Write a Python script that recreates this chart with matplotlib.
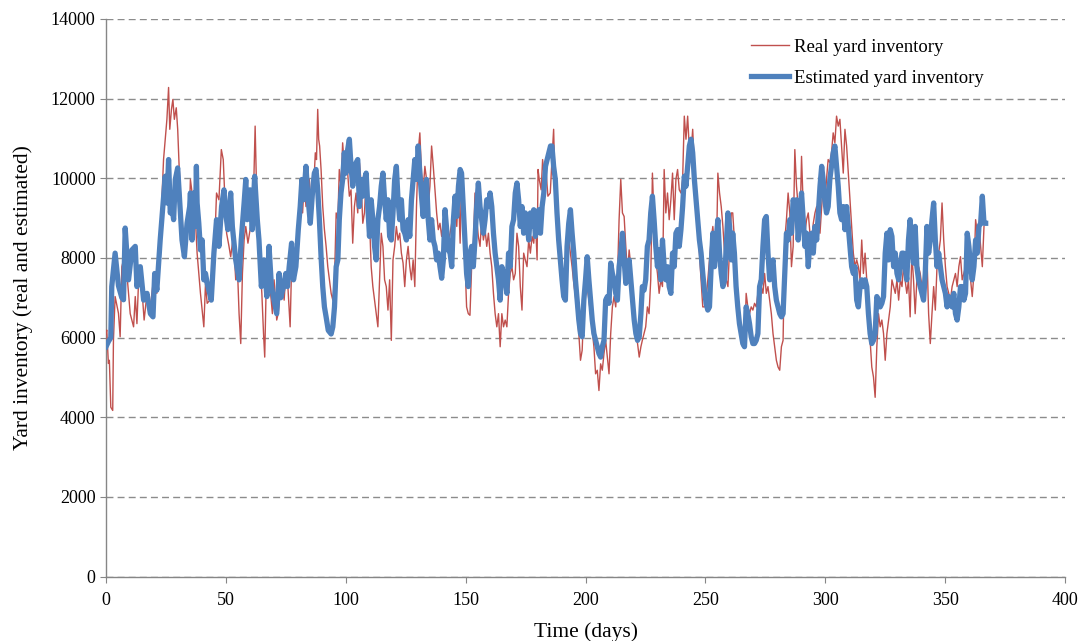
import numpy as np
import matplotlib
matplotlib.use('Agg')
import matplotlib.pyplot as plt

plt.rcParams['font.family'] = ['Liberation Serif', 'DejaVu Serif']

# ---- days 0-110, sampled irregularly ----
real_days_a = [0.0, 0.3, 1.0, 1.4, 2.0, 2.8, 3.1, 3.8, 5.2, 5.9, 6.6, 8.0, 9.4, 10.1, 11.5, 12.2, 12.9, 13.6, 14.9, 15.9,
               17.1, 18.5, 19.8, 21.2, 22.6, 23.3, 24.0, 24.7, 25.4, 26.1, 26.6, 27.3, 27.9, 28.5, 29.3, 29.9, 30.5, 31.3, 32.4, 33.8,
               34.9, 35.2, 36.6, 37.3, 38.0, 39.4, 40.1, 40.8, 41.5, 42.2, 43.3, 44.3, 45.0, 45.7, 46.1, 47.1, 48.1, 48.9, 49.6, 50.3,
               51.3, 52.0, 53.1, 54.1, 54.8, 55.5, 56.2, 56.9, 57.6, 58.3, 59.2, 60.1, 61.0, 61.7, 62.2, 62.7, 63.4, 64.3, 65.0, 65.7,
               66.2, 66.8, 67.6, 68.4, 69.4, 70.1, 71.2, 71.8, 72.6, 73.6, 74.3, 75.0, 75.7, 76.8, 77.4, 78.2, 79.2, 79.9, 80.6, 81.3,
               82.0, 82.7, 83.4, 84.1, 84.8, 85.5, 86.2, 86.9, 87.3, 87.8, 88.3, 88.7, 89.1, 89.7, 90.4, 91.1, 91.8, 92.5, 93.2, 93.9,
               94.6, 95.3, 96.0, 96.7, 97.3, 98.0, 98.7, 99.4, 100.1, 100.8, 101.5, 102.2, 102.9, 103.6, 104.3, 105.0, 105.7, 106.4, 107.1, 107.8,
               108.5, 109.2, 109.9]
real_a = [6100, 6190, 5350, 5430, 4250, 4170, 5930, 7030, 6610, 6020, 7780, 8120, 7110, 6600, 6270, 7030, 6350, 7450, 7280, 6440,
          7110, 6770, 7450, 7110, 7950, 9460, 10470, 10980, 11480, 12280, 11230, 11730, 11980, 11480, 11770, 11230, 10300, 9290, 8370, 8870,
          9380, 9970, 9290, 8960, 8120, 7110, 6690, 6270, 7360, 6860, 6940, 7450, 8290, 8960, 9630, 9460, 10720, 10470, 9460, 8620,
          8290, 8030, 8540, 7450, 7780, 6600, 5850, 7610, 8450, 8790, 8370, 8710, 8960, 10050, 11310, 9970, 8960, 7780, 7110, 6100,
          5510, 7280, 7780, 7280, 6600, 7450, 6440, 6600, 7110, 7280, 6940, 7610, 7450, 6270, 7780, 8120, 7610, 8620, 9130, 9630,
          9130, 9970, 9290, 9460, 9970, 9290, 9710, 10130, 10640, 10470, 11730, 10980, 10810, 10220, 9290, 8710, 8290, 7780, 7450, 7110,
          6940, 7450, 9130, 8960, 10220, 9800, 10890, 10300, 10640, 10130, 9550, 9710, 8370, 9290, 9630, 9130, 10390, 9880, 8870, 9130,
          9970, 9800, 8960]

est_days_a = [0.0, 1.0, 2.0, 2.4, 3.8, 5.2, 6.6, 7.3, 8.0, 9.4, 10.8, 12.2, 12.9, 14.3, 15.7, 17.1, 18.5, 19.6, 20.3, 21.2,
              22.6, 23.8, 24.7, 25.4, 26.1, 26.8, 27.5, 28.2, 28.9, 29.9, 31.0, 31.7, 32.7, 33.8, 34.9, 35.2, 35.9, 36.6, 37.3, 37.7,
              38.0, 38.7, 39.4, 40.1, 40.8, 41.5, 42.2, 42.9, 43.9, 45.0, 46.1, 47.1, 48.2, 49.2, 49.9, 50.8, 52.0, 52.7, 54.1, 55.5,
              56.4, 57.6, 58.3, 58.9, 60.1, 61.0, 62.0, 63.1, 63.8, 64.8, 65.9, 67.1, 68.0, 69.0, 70.1, 71.2, 72.2, 72.9, 74.0, 75.0,
              75.7, 76.4, 77.4, 78.2, 79.2, 80.2, 81.0, 81.7, 82.4, 83.4, 84.1, 85.2, 86.2, 86.9, 87.6, 88.3, 89.0, 89.7, 90.4, 91.1,
              91.8, 92.7, 93.9, 94.6, 95.3, 96.0, 96.7, 97.3, 98.0, 98.7, 99.4, 100.1, 100.8, 101.5, 102.2, 102.9, 103.6, 104.3, 105.0, 105.7,
              106.4, 107.1, 107.8, 108.5, 109.2, 109.9]
est_a = [5770, 5900, 6000, 7280, 8120, 7300, 7000, 6950, 8750, 7450, 8200, 8290, 7280, 7780, 6940, 7110, 6600, 6520, 7610, 7190,
         8450, 9380, 10050, 9380, 10470, 9130, 9290, 8960, 9970, 10260, 9130, 8450, 8030, 8870, 9290, 9630, 8450, 9630, 8790, 10300,
         9380, 8870, 8200, 8450, 7450, 7610, 7360, 7190, 6940, 8120, 8960, 8290, 9290, 9710, 9130, 8710, 9630, 8790, 7950, 7450,
         8450, 9380, 9970, 8960, 9710, 8710, 10050, 8960, 8450, 7280, 7950, 7030, 8290, 7280, 6940, 6600, 7610, 7000, 7280, 7610,
         7280, 7780, 8370, 7450, 7780, 8710, 9290, 9970, 9460, 10300, 9630, 8870, 9710, 10130, 10220, 9710, 8960, 8030, 7280, 6770,
         6520, 6180, 6090, 6270, 6770, 7780, 7950, 8960, 9630, 9970, 10640, 10130, 10720, 10980, 10300, 9800, 10130, 10390, 10470, 9290,
         9970, 9550, 9970, 10130, 9290, 8540]

# ---- days 110-148 ----
days_b = [110.6, 111.3, 112.0, 112.7, 113.4, 114.1, 114.8, 115.5, 116.2, 116.9, 117.6, 118.3, 119.0, 119.7, 120.4, 121.1, 121.8, 122.5,
          123.2, 123.9, 124.6, 125.3, 126.0, 126.7, 127.4, 128.1, 128.8, 129.5, 130.2, 130.9, 131.6, 132.3, 133.0, 133.7, 134.4, 135.1,
          135.8, 136.5, 137.2, 137.9, 138.6, 139.3, 140.0, 140.7, 141.4, 142.1, 142.8, 143.5, 144.2, 144.9, 145.6, 146.3, 147.0, 147.7]
real_b = [7780, 7280, 6940, 6600, 6270, 7450, 8620, 8290, 7450, 7280, 6690, 7450, 5930, 7950, 8290, 8790, 8450, 8620,
          8120, 7870, 7280, 7950, 8290, 7780, 7450, 7950, 7280, 9290, 10640, 11140, 10130, 9710, 10300, 9970, 9290, 9800,
          10810, 10300, 9710, 9130, 8710, 8870, 8540, 8870, 9210, 8960, 8450, 8620, 8870, 9130, 9290, 8790, 9710, 8370]
est_b = [9460, 8960, 8290, 7950, 8960, 9290, 9800, 10130, 9460, 8960, 9460, 8540, 8450, 9130, 9970, 10300, 9460, 8960,
         9460, 8710, 8620, 8450, 8960, 8540, 9460, 9970, 10470, 9970, 10810, 10130, 9550, 9040, 9800, 9970, 8960, 8450,
         8960, 8450, 8290, 7950, 8120, 7780, 7490, 7950, 9210, 8710, 8200, 8120, 7780, 8960, 9550, 9040, 9800, 10220]

# ---- days 148-186 ----
days_c = [148.3, 149.0, 149.7, 150.4, 151.1, 151.8, 152.5, 153.2, 153.9, 154.6, 155.3, 156.0, 156.7, 157.4, 158.1, 158.8, 159.5, 160.2,
          160.9, 161.6, 162.3, 163.0, 163.7, 164.4, 165.1, 165.8, 166.5, 167.2, 167.9, 168.6, 169.3, 170.0, 170.7, 171.4, 172.1, 172.8,
          173.5, 174.2, 174.9, 175.6, 176.3, 177.0, 177.7, 178.4, 179.1, 179.8, 180.5, 181.2, 181.9, 182.6, 183.3, 184.0, 184.7, 185.4]
real_days_c = [148.3, 149.0, 149.7, 150.4, 151.1, 151.8, 152.5, 153.2, 153.9, 154.6, 155.3, 156.0, 156.7, 157.4, 158.1, 158.8,
               159.5, 160.2, 160.9, 161.6, 162.3, 163.0, 163.7, 164.4, 165.1, 165.8, 166.5, 167.2, 167.9, 168.6, 169.3, 170.0,
               170.7, 171.4, 172.1, 172.8, 173.5, 174.2, 174.9, 175.6, 176.3, 177.0, 177.7, 178.4, 179.1, 179.8,
               180.2, 180.7, 181.5, 182.1, 182.9, 183.5, 184.3, 185.3]
real_c = [10130, 8960, 7950, 6770, 6600, 6560, 7780, 8290, 9630, 8960, 8540, 8290, 8960, 8450, 8710, 8290,
          8620, 8120, 7780, 7110, 6600, 6270, 6600, 5770, 6600, 6270, 6440, 6270, 7110, 7610, 7780, 7450,
          7610, 8620, 8290, 7280, 6690, 8120, 7950, 7780, 8450, 8120, 8540, 8370, 8960, 7950,
          10220, 9970, 9710, 10470, 9970, 10220, 9550, 9630]
est_c = [10130, 9290, 8450, 7610, 7280, 8120, 8290, 7780, 8450, 9290, 9880, 9290, 8960, 8620, 8960, 9460, 9290, 9630,
         9290, 8620, 8120, 7780, 7450, 6940, 7780, 7610, 7450, 7110, 8120, 7780, 8790, 8960, 9630, 9880, 9460, 8790,
         9290, 8620, 9130, 8960, 8450, 9130, 8790, 9210, 8540, 8960, 9210, 8620, 9290, 9630, 10300, 10470, 10640, 10810]

# ---- days 186-223 ----
days_d = [186.0, 186.7, 187.4, 188.1, 188.8, 189.5, 190.2, 190.9, 191.6, 192.3, 193.0, 193.7, 194.4, 195.1, 195.8, 196.5, 197.2, 197.9,
          198.6, 199.3, 200.0, 200.7, 201.4, 202.1, 202.8, 203.5, 204.2, 204.9, 205.6, 206.3, 207.0, 207.7, 208.4, 209.1, 209.8, 210.5,
          211.2, 211.9, 212.6, 213.3, 214.0, 214.7, 215.4, 216.1, 216.8, 217.5, 218.2, 218.9, 219.6, 220.3, 221.0, 221.7, 222.4, 223.1]
real_d = [10470, 11230, 9550, 8960, 8290, 8290, 7870, 7190, 7450, 7780, 8450, 8120, 7780, 7360, 7030, 6600, 6100, 5430,
          5680, 6770, 7360, 7280, 6940, 6600, 6190, 5770, 5090, 5180, 4670, 5340, 5180, 5600, 5930, 5510, 5090, 6100,
          6770, 7030, 6770, 7450, 8960, 9970, 9130, 9040, 8290, 7610, 8200, 7780, 7110, 6440, 6100, 5850, 5510, 5770]
est_d = [10810, 10300, 9970, 9130, 8450, 7950, 7450, 7030, 6940, 8290, 8870, 9210, 8620, 8120, 7450, 6940, 6440, 6100,
         6020, 6940, 7450, 8030, 7450, 6940, 6440, 6100, 5930, 5770, 5600, 5510, 5770, 5930, 6940, 7030, 6860, 7870,
         7610, 7450, 7110, 6940, 7780, 8120, 8620, 7950, 7360, 7610, 7950, 7450, 6940, 6440, 6100, 5930, 6020, 6600]

# ---- days 223-261 ----
days_e = [223.7, 224.4, 225.1, 225.8, 226.5, 227.2, 227.9, 228.6, 229.3, 230.0, 230.7, 231.4, 232.1, 232.8, 233.5, 234.2, 234.9, 235.6,
          236.3, 237.0, 237.7, 238.4, 239.1, 239.8, 240.5, 241.2, 241.9, 242.6, 243.3, 244.0, 244.7, 245.4, 246.1, 246.8, 247.5, 248.2,
          248.9, 249.6, 250.3, 251.0, 251.7, 252.4, 253.1, 253.8, 254.5, 255.2, 255.9, 256.6, 257.3, 258.0, 258.7, 259.4, 260.1, 260.8]
real_e = [5930, 6100, 6270, 6770, 6600, 7450, 10130, 8960, 7950, 7610, 7110, 7450, 7280, 10220, 9130, 9630, 8960, 9460,
          10130, 8960, 9970, 10220, 9710, 9630, 9970, 11560, 10980, 11560, 10720, 10640, 11230, 10300, 9290, 8710, 8120, 7450,
          6770, 6770, 6940, 7450, 7950, 8450, 8790, 8290, 7780, 10130, 9630, 9290, 8790, 8120, 7450, 7280, 8290, 9130]
est_e = [7280, 7190, 7450, 8290, 8450, 9130, 9550, 8960, 8290, 7780, 8200, 7450, 8450, 7780, 7450, 7780, 7280, 7110,
         8120, 7780, 8620, 8710, 8290, 8710, 9290, 10050, 9800, 10300, 10810, 10980, 10640, 9970, 9460, 8960, 8450, 8120,
         7610, 7190, 6860, 6690, 6770, 7780, 8620, 7780, 8450, 8960, 8120, 7610, 7280, 7450, 8290, 9130, 8790, 7950]

# ---- days 261-299 ----
days_f = [261.4, 262.1, 262.8, 263.5, 264.2, 264.9, 265.6, 266.3, 267.0, 267.7, 268.4, 269.1, 269.8, 270.5, 271.2, 271.9, 272.6, 273.3,
          274.0, 274.7, 275.4, 276.1, 276.8, 277.5, 278.2, 278.9, 279.6, 280.3, 281.0, 281.7, 282.4, 283.1, 283.8, 284.5, 285.2, 285.9,
          286.6, 287.3, 288.0, 288.7, 289.4, 290.1, 290.8, 291.5, 292.2, 292.9, 293.6, 294.3, 295.0, 295.7, 296.4, 297.1, 297.8, 298.5]
real_f = [9130, 8450, 7780, 7110, 6440, 6100, 5850, 5770, 7110, 6770, 6600, 6770, 6690, 6860, 6770, 7110, 7450, 7280,
          7110, 7610, 7110, 7280, 6940, 6600, 6100, 5770, 5430, 5260, 5180, 5770, 5930, 8450, 8960, 9630, 9130, 7780,
          8290, 10720, 9800, 9290, 8620, 10550, 9290, 8620, 8960, 9130, 8620, 8450, 8870, 9130, 9290, 8790, 8620, 9290]
est_f = [8620, 8120, 7280, 6770, 6350, 6100, 5850, 5770, 6770, 6600, 6350, 6020, 5850, 5850, 5930, 6100, 7280, 7450,
         8290, 8960, 9040, 8120, 7450, 7780, 7950, 7280, 6940, 6770, 6600, 6520, 6600, 7610, 8620, 8450, 8960, 8620,
         9460, 9290, 9460, 8450, 9130, 9630, 8960, 8290, 8620, 7780, 8450, 8620, 8120, 8790, 8450, 9130, 9800, 10300]

# ---- days 299-332 ----
days_g = [299.1, 299.8, 300.5, 301.2, 301.9, 302.6, 303.3, 304.0, 304.7, 305.4, 306.1, 306.8, 307.5, 308.2, 308.9, 309.6,
          310.3, 311.0, 311.7, 312.4, 313.1, 313.8, 314.5, 315.2, 315.9, 316.6, 317.3, 318.0, 318.7, 319.4, 320.1, 320.8,
          321.5, 322.2, 322.9, 323.6, 324.3, 325.0, 325.7, 326.4, 327.1, 327.8, 328.5, 329.2, 329.9, 330.6, 331.3, 332.0]
real_g = [9800, 9290, 9970, 10470, 10390, 10640, 11140, 10890, 11560, 11310, 11480, 10810, 10130, 11230, 10810, 10130,
          9460, 8790, 8120, 7780, 7950, 7780, 7450, 8450, 7610, 8120, 7450, 6770, 5930, 5260, 5010, 4500,
          5770, 6600, 6270, 6440, 6100, 5430, 6100, 6440, 6770, 7450, 7280, 7110, 7450, 6940, 7450, 7280]
est_g = [9970, 9460, 9130, 9290, 9970, 10300, 10640, 10810, 10300, 9800, 9130, 8960, 9290, 8710, 9290, 8790,
         8290, 7780, 7610, 7780, 6940, 6770, 7280, 7450, 7280, 7450, 7280, 6600, 6100, 5850, 5930, 6100,
         7030, 6940, 6770, 6860, 7030, 8120, 8620, 7950, 8710, 8540, 7780, 8120, 7610, 7450, 7780, 8120]

# ---- days 332-367 ----
days_h = [332.6, 333.3, 334.0, 334.7, 335.4, 336.1, 336.8, 337.5, 338.2, 338.9, 339.6, 340.3, 341.0, 341.7, 342.4, 343.1, 343.8,
          344.5, 345.2, 345.9, 346.6, 347.3, 348.0, 348.7, 349.4, 350.1, 350.8, 351.5, 352.2, 352.9, 353.6, 354.3, 355.0, 355.7,
          356.4, 357.1, 357.8, 358.5, 359.2, 359.9, 360.6, 361.3, 362.0, 362.7, 363.4, 364.1, 364.8, 365.5, 366.2, 366.9]
real_h = [7780, 7450, 7110, 7450, 6520, 8120, 7450, 6600, 7450, 7780, 7610, 7280, 7450, 8450, 8120, 6600, 5850,
          6600, 7280, 6690, 7780, 8120, 8450, 9380, 8450, 7780, 7280, 7110, 6940, 7280, 7450, 7610, 7280, 7780,
          8030, 7450, 7610, 7780, 8120, 7780, 7450, 7030, 7610, 8960, 8620, 8790, 8290, 7780, 8790]
est_h = [8120, 7780, 7450, 8450, 8960, 8290, 7870, 8790, 7780, 7450, 7280, 7110, 6940, 7610, 8790, 8120, 8450,
         8960, 9380, 8450, 7780, 8120, 7780, 7450, 7280, 7110, 6770, 7030, 6940, 6770, 7110, 6600, 6440, 6770,
         7280, 7280, 6940, 7110, 8620, 8290, 7780, 7450, 7780, 8450, 8120, 8790, 8870, 9550, 8870, 8870]

real_days = np.concatenate([real_days_a, days_b, real_days_c, days_d, days_e, days_f, days_g, days_h[:len(real_h)]])
real_inv = np.concatenate([real_a, real_b, real_c, real_d, real_e, real_f, real_g, real_h])
est_days = np.concatenate([est_days_a, days_b, days_c, days_d, days_e, days_f, days_g, days_h])
est_inv = np.concatenate([est_a, est_b, est_c, est_d, est_e, est_f, est_g, est_h])

fig, ax = plt.subplots(figsize=(10.85, 6.41), dpi=100)
fig.subplots_adjust(left=0.0977, right=0.9816, top=0.9704, bottom=0.1006)

ax.plot(real_days, real_inv, color='#C0504D', lw=1.0, label='Real yard inventory', zorder=3)
ax.plot(est_days, est_inv, color='#4F81BD', lw=3.8, solid_joinstyle='round',
        label='Estimated yard inventory', zorder=4)

ax.set_xlim(0, 400)
ax.set_ylim(0, 14000)
ax.set_xticks(np.arange(0, 401, 50))
ax.set_yticks(np.arange(0, 14001, 2000))
ax.yaxis.grid(True, color='#8c8c8c', linestyle=(0, (5, 3)), lw=1.0)
ax.set_axisbelow(True)

for side in ['top', 'right']:
    ax.spines[side].set_visible(False)
for side in ['left', 'bottom']:
    ax.spines[side].set_color('#868686')
    ax.spines[side].set_linewidth(1.0)
ax.tick_params(axis='both', colors='#868686', labelcolor='black', labelsize=13, length=4, direction='out')
ax.tick_params(axis='x', pad=7)

ax.set_xlabel('Time (days)', fontsize=15.5, labelpad=10)
ax.set_ylabel('Yard inventory (real and estimated)', fontsize=15.5, labelpad=13)

leg = ax.legend(loc='upper left', bbox_to_anchor=(0.665, 0.978), frameon=False, fontsize=13.5,
                handlelength=2.0, handletextpad=0.27, labelspacing=0.75, borderaxespad=0)

plt.savefig('out.png', dpi=100)
